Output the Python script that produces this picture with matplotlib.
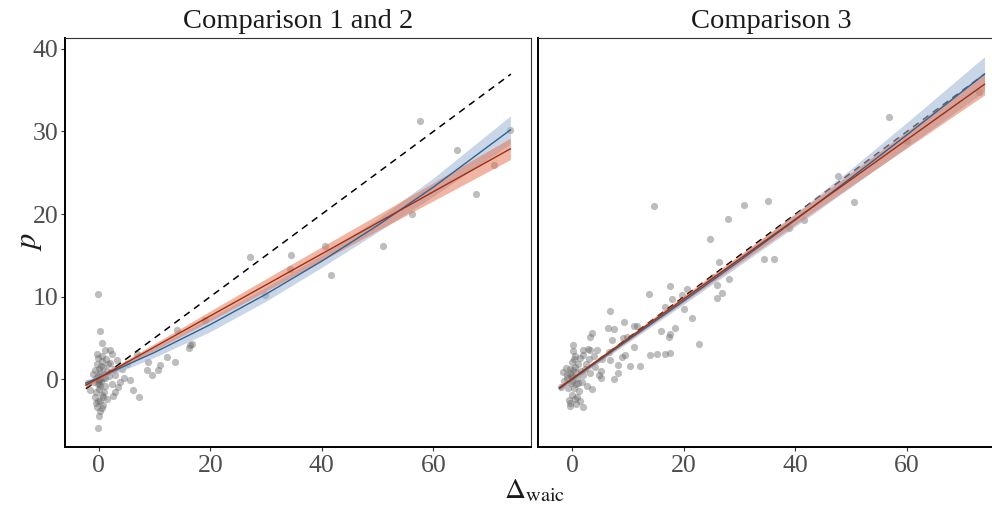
import numpy as np
import matplotlib
matplotlib.use("Agg")
import matplotlib.pyplot as plt

plt.rcParams['font.family'] = ['Liberation Serif', 'DejaVu Serif']
plt.rcParams['mathtext.fontset'] = 'stix'

# ---- panel 1: "Comparison 1 and 2" ----
pts1_x = [57.6, 73.8, 64.2, 70.9, 67.6, 56.2, 27.1, 34.4, 40.6, 41.7, 50.9, 34.3, 29.8, 19.0,
          16.1, 16.7, -0.2, 0.2, 0.6, -0.3, 1.1, 2.0, 2.4, 3.3, 6.8, 8.9, 12.2, 13.7, 14.1,
          16.4, 5.6, 6.2, 7.2, 8.6, 9.5, 11.0, 10.7, 0.2, -0.2, -0.5, 0.8, 0.7, -0.7, 3.5,
          3.8, -1.9, -1.6,
          -0.5, 0.1, 0.3, 0.8, -0.3, 0.5, 1.4, 1.9, 2.3, 0.0, -0.4, 0.6, 1.1, 0.2, -0.2, 0.4,
          0.9, 1.6, 2.7, 3.0, -1.0, -0.8, 0.0, 0.6, 1.3, -0.1, 2.0, 2.9, 0.3, -0.3, 0.5, 1.5,
          0.0, 0.1, -0.1, 0.2, 0.7, -0.6, 1.0, 4.2, 4.6, 2.5, 0.4, -0.2, 1.2, 5.0, 0.1]
pts1_y = [31.3, 30.2, 27.8, 25.9, 22.4, 20.0, 14.8, 15.1, 16.1, 12.6, 16.1, 13.3, 10.2, 7.2,
          3.75, 4.3, 10.3, 5.8, 4.4, 3.1, 3.5, 3.6, 3.1, 2.3, 3.1, 2.1, 2.7, 2.1, 6.0,
          4.15, -0.1, -1.3, -2.2, 1.1, 0.5, 1.7, 1.1, -3.9, -5.9, -2.9, -3.1, -2.2, -2.1, -0.9,
          -0.3, -0.5, -1.3,
          0.2, -0.4, 0.8, 1.5, 1.9, 2.2, 1.0, 0.4, -0.6, -1.2, -1.6, -1.9, -0.8, 0.3, -0.6, -0.2,
          0.6, 1.8, 1.2, 0.5, 0.6, -0.3, 1.2, 2.8, 2.5, 2.6, 2.0, -1.5, -2.6, -3.4, -3.5, -2.4,
          0.0, -0.1, 0.4, -0.8, 0.1, 1.1, -1.5, 1.3, 0.2, -2.0, 1.6, -2.6, 0.2, 1.8, -4.4]

fit_x1 = [-2.3, 0, 10, 20, 30, 40, 50, 60, 73.8]
blue1 = [-0.46, 0.2, 3.25, 6.62, 10.31, 14.31, 18.63, 23.27, 30.19]
blue1_se = [0.35, 0.3, 0.6, 0.85, 0.85, 0.75, 0.8, 1.1, 1.7]
red1 = [-0.71, 0.15, 3.91, 7.67, 11.43, 15.19, 18.95, 22.71, 27.9]
red1_se = [0.3, 0.25, 0.4, 0.6, 0.75, 0.85, 0.95, 1.1, 1.3]

# ---- panel 2: "Comparison 3" ----
pts2_x = [56.7, 47.6, 50.5, 14.6, 30.7, 35.0, 27.9, 24.6, 41.5, 38.9, 34.3, 36.2, 26.3, 25.2,
          28.0, 26.0, 26.8, 26.0, 17.5, 20.6, 19.6, 17.8, 20.0, 21.5, 18.4, 15.9, 17.5, 17.4,
          22.8, 13.7, 16.6, 13.9, 15.2, 16.6, 17.5, 12.2, 10.3, 6.8, 6.4, 7.5, 9.3, 11.0, 11.6,
          7.2, 9.1, 9.8, 11.0, 9.5, 8.9, 8.2, 8.1, 7.4, 3.5, 3.2, 1.9, 3.2, 4.4, 3.8, 5.3, 6.8,
          6.5, 5.1, 5.2, 3.2, 2.0, 0.05, -0.4, 60.0, 72.9,
          -2.1, -1.5, -1.0, -0.5, 0.0, 0.5, 1.0, 1.5, 2.0, 2.5, 3.0, -0.8, -0.3, 0.2, 0.6, 1.2,
          -0.1, 0.4, -0.6, 0.9, 1.7, 2.3, -1.2, 0.1, 0.7, 1.3, -0.4, 0.3, 0.8, -0.9, 1.9, 0.0,
          -0.2, 0.5, 1.0, 2.6, 0.2, -1.6, 4.0, 4.8, 0.6, 1.4, -0.5, 3.6, 2.9, 0.3]
pts2_y = [31.8, 24.6, 21.5, 21.0, 21.1, 21.6, 19.4, 17.0, 19.3, 18.3, 14.6, 14.6, 14.2, 12.4,
          12.1, 11.4, 10.5, 9.9, 11.3, 10.9, 10.2, 9.7, 8.5, 7.4, 6.2, 5.9, 5.5, 5.1,
          4.3, 10.3, 8.7, 2.9, 3.0, 3.1, 3.2, 1.6, 1.6, 8.3, 6.2, 6.1, 6.9, 6.5, 6.5,
          4.8, 5.0, 5.1, 3.9, 2.9, 2.7, 1.7, 0.7, 0.0, 5.6, 5.1, 3.5, 3.6, 3.5, 2.8, 2.5, 2.3,
          3.3, 1.0, 0.2, 0.8, -3.3, 4.2, -2.9, 28.8, 34.8,
          -0.9, -0.2, 0.5, 1.3, 2.1, 2.8, 1.8, 1.0, 0.5, 1.9, 2.5, -1.0, -0.4, 0.3, -0.6, -1.4,
          -1.9, -2.4, -2.5, -2.1, -0.3, 1.2, 1.4, 1.1, 0.9, 2.6, 0.7, -1.1, 0.2, 0.1, 2.9, -0.2,
          0.4, 1.5, -0.5, -0.8, 3.4, 0.9, 1.5, 0.5, -3.0, -2.6, -3.2, -1.2, 3.7, 2.4]

fit_x2 = [-2.3, 0, 10, 20, 30, 40, 50, 60, 73.9]
blue2 = [-1.1, 0.0, 4.75, 9.5, 14.35, 19.3, 24.4, 29.6, 36.96]
blue2_se = [0.3, 0.25, 0.3, 0.4, 0.55, 0.8, 1.1, 1.5, 2.1]
red2 = [-1.01, 0.1, 4.92, 9.74, 14.56, 19.38, 24.2, 29.02, 35.72]
red2_se = [0.3, 0.25, 0.3, 0.4, 0.5, 0.65, 0.8, 1.0, 1.3]

# reference line p = delta/2
ref_x = [-2.3, 73.9]
ref_y = [-1.15, 36.95]

titles = ["Comparison 1 and 2", "Comparison 3"]

W, H = 992, 508
fig = plt.figure(figsize=(W / 100, H / 100), dpi=100)
ax1 = fig.add_axes([64.7 / W, 61 / H, 466.3 / W, 409.5 / H])
ax2 = fig.add_axes([538.3 / W, 61 / H, 466.3 / W, 409.5 / H])

panels = [
    (ax1, pts1_x, pts1_y, fit_x1, blue1, blue1_se, red1, red1_se),
    (ax2, pts2_x, pts2_y, fit_x2, blue2, blue2_se, red2, red2_se),
]

for i, (ax, px, py, fx, b, bse, r, rse) in enumerate(panels):
    fx = np.array(fx)
    b, bse, r, rse = map(np.array, (b, bse, r, rse))
    ax.scatter(px, py, s=27, color='#666666', alpha=0.43, linewidths=0, zorder=1)
    ax.plot(ref_x, ref_y, color='black', lw=1.1, ls=(0, (4.5, 3.5)), zorder=2)
    ax.fill_between(fx, b - bse, b + bse, color='#9DB5D6', alpha=0.55, lw=0, zorder=3)
    ax.fill_between(fx, r - rse, r + rse, color='#E3714F', alpha=0.52, lw=0, zorder=3)
    ax.plot(fx, b, color='#2F6391', lw=1.0, zorder=4)
    ax.plot(fx, r, color='#9E2F14', lw=1.0, zorder=4)

    ax.set_xlim(-6.1, 77.5)
    ax.set_ylim(-8.2, 41.38)
    ax.set_xticks([0, 20, 40, 60])
    ax.set_yticks([0, 10, 20, 30, 40])
    ax.tick_params(labelsize=18.5, labelcolor='#4D4D4D', color='#333333',
                   length=3, width=0.8, pad=3)
    ax.tick_params(axis='y', pad=1.5)
    for side in ['left', 'bottom']:
        ax.spines[side].set_linewidth(1.4)
        ax.spines[side].set_color('black')
    for side in ['top', 'right']:
        ax.spines[side].set_linewidth(0.8)
        ax.spines[side].set_color('#333333')
    ax.set_title(titles[i], fontsize=20.5, color='#1A1A1A', pad=7)
    if i == 1:
        ax.tick_params(axis='y', left=False, labelleft=False)

fig.text(30 / W, 0.525, r'$p$', rotation=90, fontsize=22, ha='center', va='center', color='#1A1A1A')
fig.text(534.7 / W, 10 / H, r'$\Delta_{\mathrm{waic}}$', fontsize=21, ha='center', va='baseline',
         color='#1A1A1A')

fig.savefig('out.png', dpi=100)
